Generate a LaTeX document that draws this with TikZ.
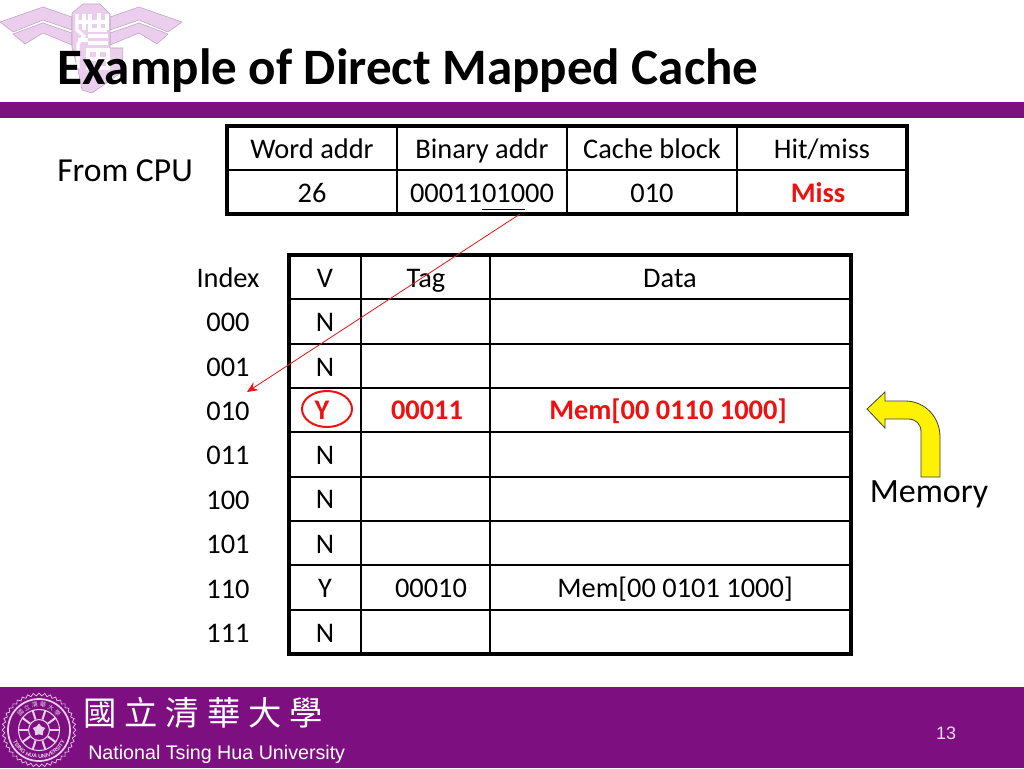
\documentclass[tikz,border=0pt]{standalone}
\usepackage{fontspec}
\setmainfont{Carlito}
\newfontfamily\arialfont{Liberation Sans}
\newfontfamily\cjkfont{Noto Sans CJK TC}
\usepackage{xcolor}
\usetikzlibrary{shapes.geometric, decorations.text, arrows.meta}
\definecolor{nthupurple}{HTML}{7D0F80}
\definecolor{nthupink}{HTML}{EBCDEE}
\definecolor{sealpink}{HTML}{EAD0EC}
\definecolor{missred}{HTML}{EE1111}
\tikzset{
    celltext/.style={anchor=base, inner sep=0pt, font=\fontsize{21.3}{26}\selectfont},
    hittext/.style={celltext, text=missred, font=\fontsize{21.3}{26}\selectfont\bfseries},
    thickrule/.style={line width=2.5pt},
    thinrule/.style={line width=0.95pt}
}

\begin{document}
\begin{tikzpicture}[x=0.75pt, y=-0.75pt]
    \useasboundingbox (0,0) rectangle (1024,768);
    \fill[white] (0,0) rectangle (1024,768);

    % logo behind the title
    \begin{scope}[fill=nthupink, draw=nthupink!80!black, line width=0.4pt]
        \filldraw (0,22) -- (43,7) -- (72,17) -- (72,30) -- (43,20) -- (13,32) -- cycle;
        \filldraw (13,34) -- (43,23) -- (72,33) -- (72,45) -- (43,33) -- (25,44) -- cycle;
        \filldraw (182,22) -- (139,7) -- (110,17) -- (110,30) -- (139,20) -- (168,32) -- cycle;
        \filldraw (168,34) -- (139,23) -- (110,33) -- (110,45) -- (139,33) -- (157,44) -- cycle;
        \filldraw (72,13) -- (83,4) -- (100,4) -- (110,14) -- (110,48) -- (123,48) -- (122,72) -- (92,93) -- (82,90) -- (78,70) -- (72,48) -- cycle;
    \end{scope}
    \begin{scope}[draw=white, line width=2.4pt]
        \draw (77,14) -- (77,30) -- (84,36) -- (78,44) -- (78,68);
        \draw (77,22) -- (88,22) (84,14) -- (84,30) (78,40) -- (88,40);
        \draw (90,14) -- (90,30) -- (107,30) (99,13) -- (99,30) (107,14) -- (107,30) (90,22) -- (107,22);
        \draw (88,36) -- (108,36) (88,43) -- (108,43);
        \draw (88,50) -- (108,50) -- (108,68) -- (88,68) -- cycle (98,50) -- (98,68) (88,59) -- (108,59);
    \end{scope}

    % bars
    \fill[nthupurple] (0,102) rectangle (1024,118);
    \fill[nthupurple] (0,687) rectangle (1024,768);

    \node[anchor=base west, inner sep=0pt, font=\fontsize{38.3}{44}\selectfont\bfseries] (title) at (57,84) {Example of Direct Mapped Cache};
    \node[anchor=base west, inner sep=0pt, font=\fontsize{25.2}{30}\selectfont] (fromcpu) at (57,181) {From CPU};

    % address table
    \draw[thinrule] (227,170) -- (907,170);
    \foreach \x in {397,567,737}
        \draw[thinrule] (\x,126) -- (\x,214);
    \draw[thickrule] (227,126) rectangle (907,214);

    \node[celltext] (hdword) at (312,158) {Word addr};
    \node[celltext] (hdbinary) at (482,158) {Binary addr};
    \node[celltext] (hdblock) at (652,158) {Cache block};
    \node[celltext] (hdhit) at (822,158) {Hit/miss};
    \node[celltext] (valword) at (312,202) {26};
    \node[celltext] (valbinary) at (482,202) {0001101000};
    \node[celltext] (valblock) at (652,202) {010};
    \node[hittext] (valhit) at (818,202) {Miss};
    \draw[line width=0.6pt] (482,209) -- (525,209);

    % cache table
    \foreach \y in {299,344,388,432,477,521,565,610}
        \draw[thinrule] (289,\y) -- (851,\y);
    \foreach \x in {361,490}
        \draw[thinrule] (\x,255) -- (\x,654);
    \draw[thickrule] (289,255) rectangle (851,654);

    \node[celltext] (hdindex) at (228,287) {Index};
    \node[celltext] (hdv) at (325,287) {V};
    \node[celltext] (hdtag) at (426,287) {Tag};
    \node[celltext] (hddata) at (670,287) {Data};

    \foreach \name/\y in {000/331,001/376,010/420,011/464,100/509,101/553,110/598,111/642}
        \node[celltext] (idx\name) at (228,\y) {\name};
    \foreach \name/\y in {000/331,001/376,011/464,100/508,101/553,111/642}
        \node[celltext] (v\name) at (325,\y) {N};

    \node[hittext] (v010) at (322,419) {Y};
    \node[hittext] (tag010) at (427,419) {00011};
    \node[hittext] (data010) at (668,419) {Mem[00 0110 1000]};
    \node[celltext] (v110) at (325,597) {Y};
    \node[celltext] (tag110) at (431,597) {00010};
    \node[celltext] (data110) at (675,597) {Mem[00 0101 1000]};

    \node[draw=missred, line width=1.5pt, ellipse, minimum width=50pt*0.75, minimum height=36pt*0.75, inner sep=0pt] (hitmark) at (327,409) {};

    \coordinate (indexfrom) at (520,214);
    \coordinate (indexto) at (247,392);
    \draw[-{Stealth[length=8pt, width=7pt]}, missred, line width=0.6pt] (indexfrom) -- (indexto);

    % memory arrow
    \filldraw[fill=yellow, draw=black!75, line width=0.6pt] (867,409) -- (885,392) -- (885,401) -- (905,401)
        .. controls (925,401) and (940,417) .. (940,437) -- (940,477) -- (921,477) -- (921,432)
        .. controls (921,424) and (916,419) .. (908,419) -- (885,419) -- (885,428) -- cycle;
    \node[anchor=base, inner sep=0pt, font=\fontsize{25.5}{30}\selectfont] (memory) at (929,502) {Memory};

    % footer
    \node[star, star points=40, star point ratio=1.08, draw=sealpink, line width=0.5pt, minimum size=74pt*0.75, inner sep=0pt] (sealedge) at (39,730) {};
    \node[circle, draw=sealpink, line width=1.3pt, minimum size=62pt*0.75, inner sep=0pt] (sealouter) at (39,730) {};
    \node[circle, draw=sealpink, line width=0.8pt, minimum size=41pt*0.75, inner sep=0pt] (sealinner) at (39,730) {};
    \node[circle, draw=sealpink, line width=0.8pt, minimum size=21pt*0.75, inner sep=0pt] (sealcore) at (39,730) {};
    \node[star, star points=5, fill=sealpink, minimum size=13pt*0.75, inner sep=0pt] (sealstar) at (39,730) {};
    \foreach \a in {0,36,...,324}
        \draw[sealpink, line width=1.5pt] (sealcore.\a) -- (sealinner.\a);
    \path[postaction={decorate}, decoration={text along path, text align=center,
        text={|\arialfont\fontsize{4.2}{5}\selectfont\bfseries\color{sealpink}|TSING HUA UNIVERSITY}}]
        (39,730) ++(200:28.5) arc[start angle=200, end angle=-20, radius=28.5];
    \path[postaction={decorate}, decoration={text along path, text align=center,
        text={|\cjkfont\fontsize{4.6}{5}\selectfont\color{sealpink}|國 立 清 華 大 學}}]
        (39,730) ++(150:23) arc[start angle=150, end angle=390, radius=23];

    \node[anchor=base west, inner sep=0pt, text=white, font=\cjkfont\fontsize{25}{30}\selectfont] (nthucjk) at (83,725) {國\hspace{0.24em}立\hspace{0.24em}清\hspace{0.24em}華\hspace{0.24em}大\hspace{0.24em}學};
    \node[anchor=base west, inner sep=0pt, text=white, font=\arialfont\fontsize{14.75}{18}\selectfont] (nthuname) at (88,759) {National Tsing Hua University};
    \node[anchor=base, inner sep=0pt, text=white!85!nthupurple, font=\arialfont\fontsize{13.5}{16}\selectfont] (pagenum) at (946,739) {13};
\end{tikzpicture}
\end{document}
